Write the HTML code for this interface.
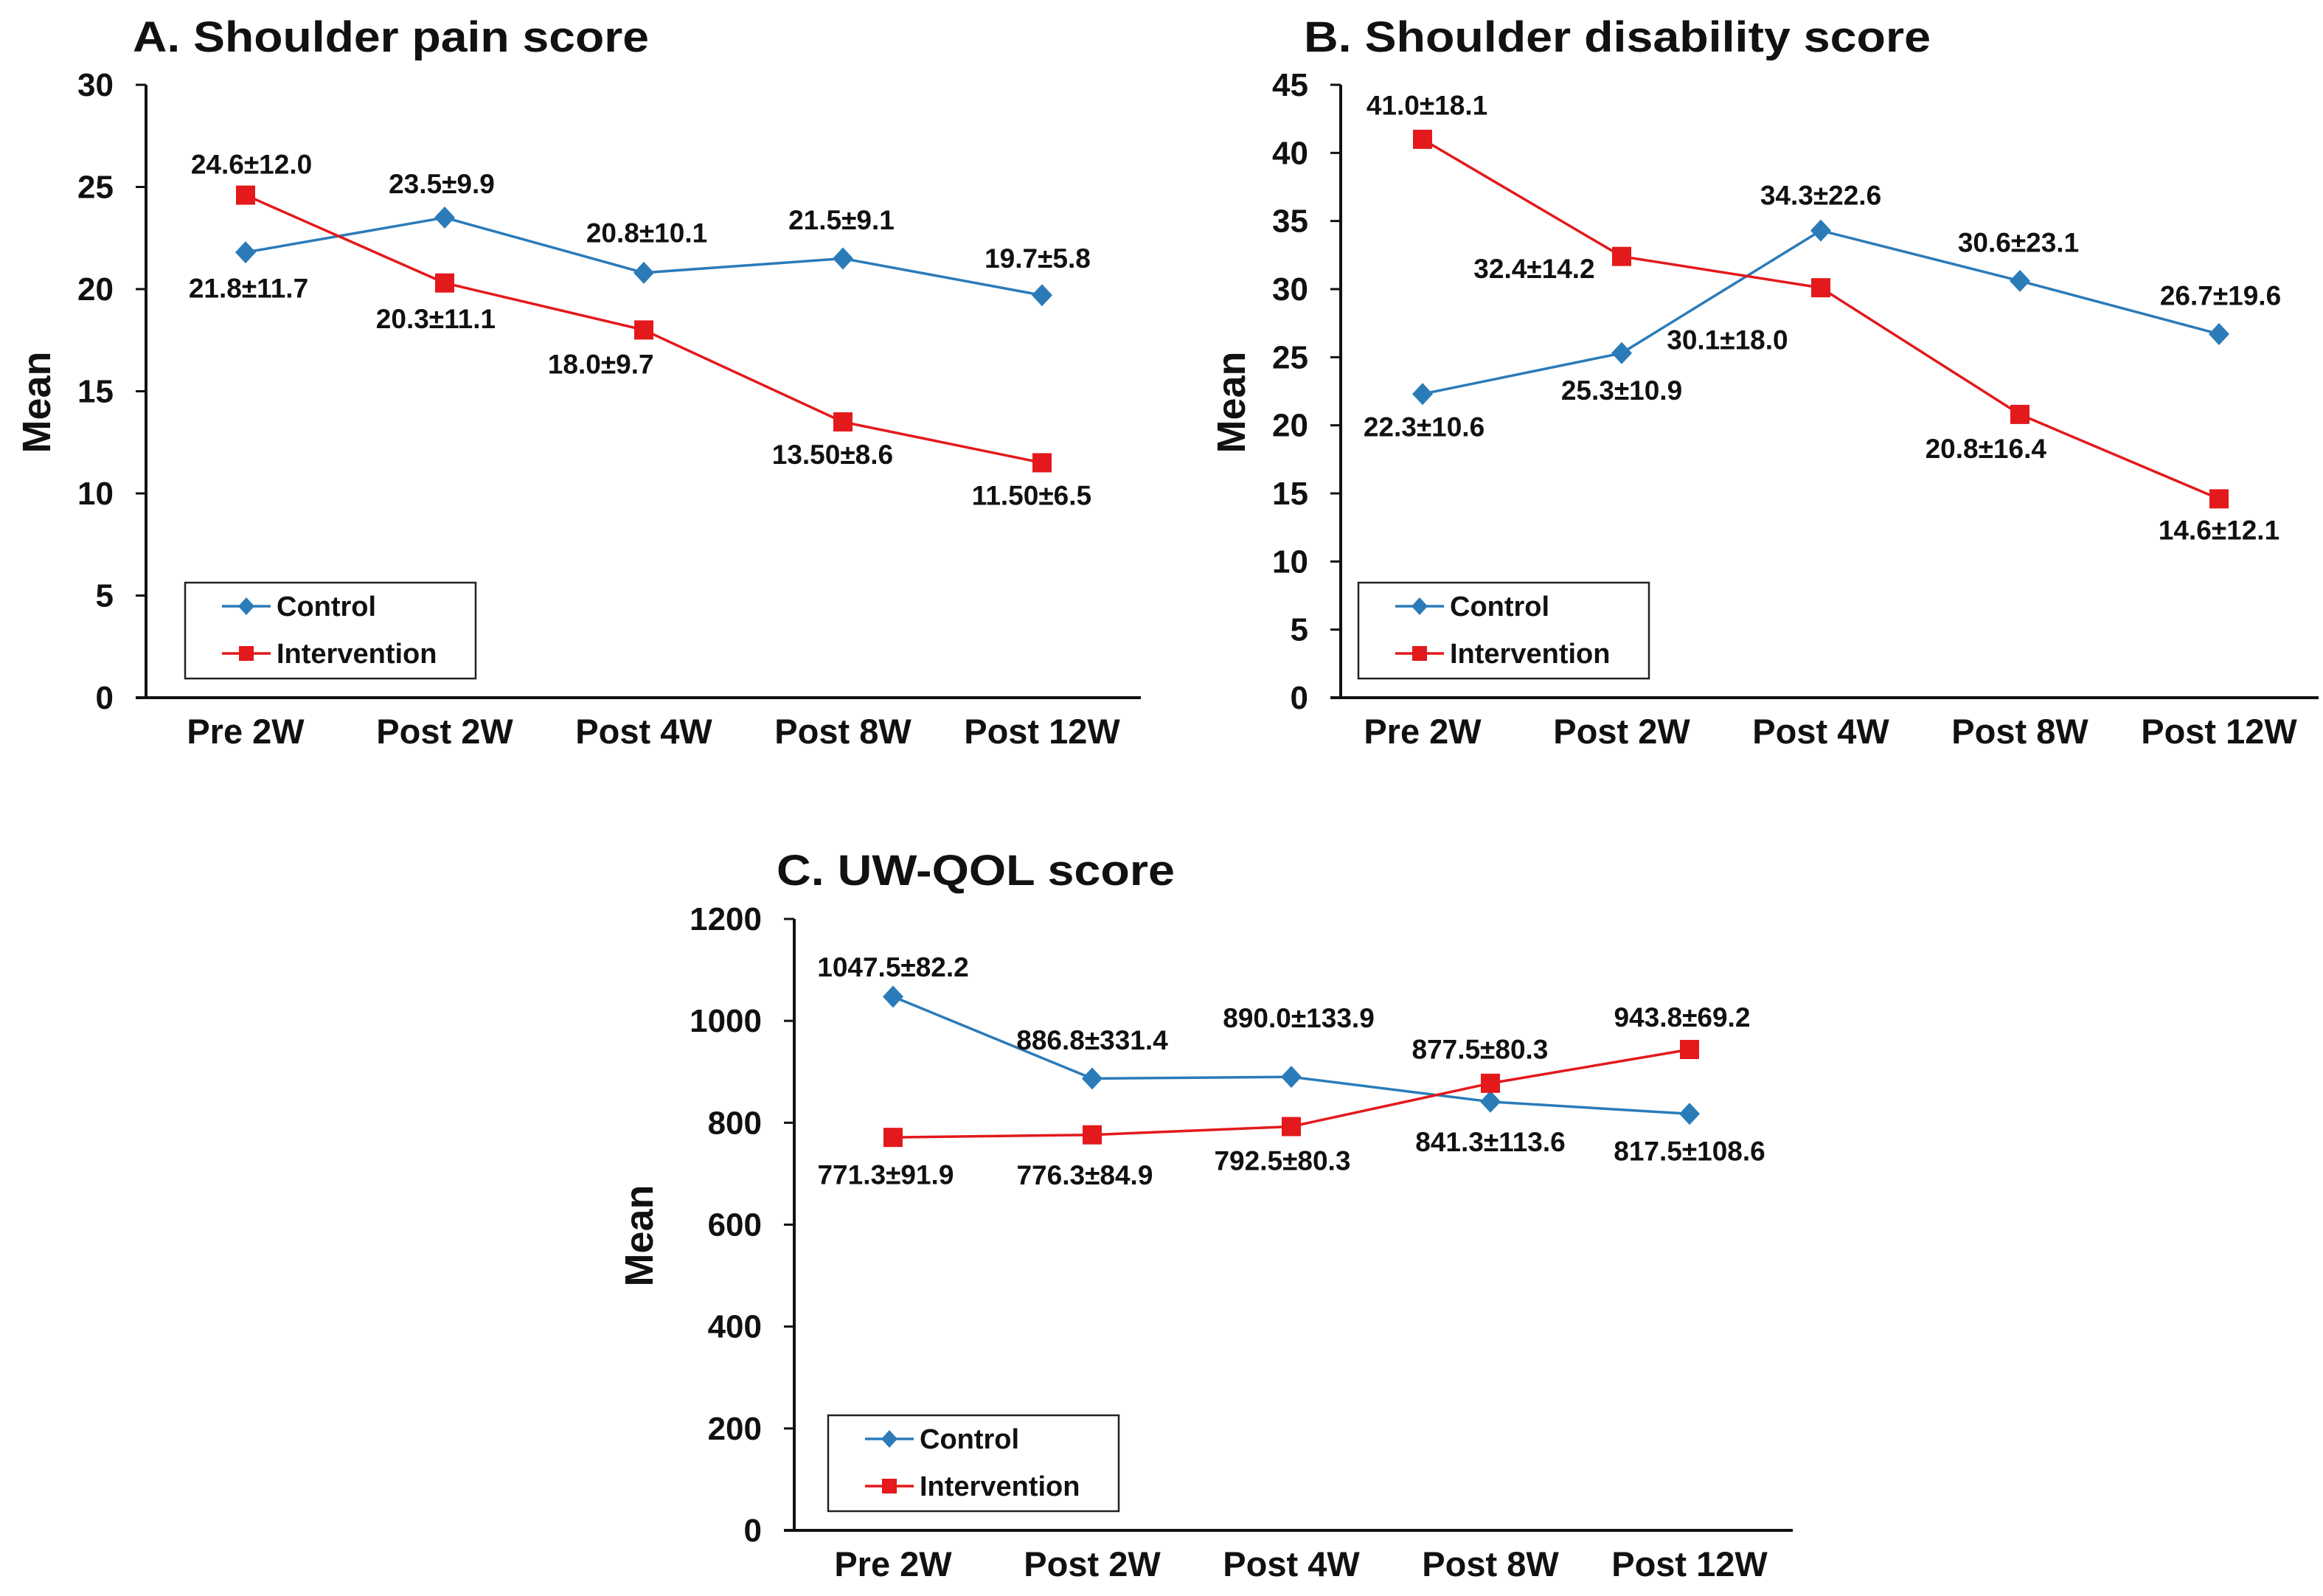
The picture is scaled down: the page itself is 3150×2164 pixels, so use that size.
<!DOCTYPE html>
<html><head><meta charset="utf-8"><style>
html,body{margin:0;padding:0;background:#fff}
svg{display:block}
text{font-family:"Liberation Sans",Arial,sans-serif;font-weight:bold;fill:#111}
</style></head><body>
<svg id="fig" width="3150" height="2164" viewBox="0 0 3150 2164" xmlns="http://www.w3.org/2000/svg"></svg>
<script>
const categories = ["Pre 2W","Post 2W","Post 4W","Post 8W","Post 12W"];
const painControl = [21.8,23.5,20.8,21.5,19.7];
const painIntervention = [24.6,20.3,18.0,13.5,11.5];
const painControlLabels = ["21.8±11.7","23.5±9.9","20.8±10.1","21.5±9.1","19.7±5.8"];
const painInterventionLabels = ["24.6±12.0","20.3±11.1","18.0±9.7","13.50±8.6","11.50±6.5"];
const painTicks = [0,5,10,15,20,25,30];
const disControl = [22.3,25.3,34.3,30.6,26.7];
const disIntervention = [41.0,32.4,30.1,20.8,14.6];
const disControlLabels = ["22.3±10.6","25.3±10.9","34.3±22.6","30.6±23.1","26.7±19.6"];
const disInterventionLabels = ["41.0±18.1","32.4±14.2","30.1±18.0","20.8±16.4","14.6±12.1"];
const disTicks = [0,5,10,15,20,25,30,35,40,45];
const qolControl = [1047.5,886.8,890.0,841.3,817.5];
const qolIntervention = [771.3,776.3,792.5,877.5,943.8];
const qolControlLabels = ["1047.5±82.2","886.8±331.4","890.0±133.9","841.3±113.6","817.5±108.6"];
const qolInterventionLabels = ["771.3±91.9","776.3±84.9","792.5±80.3","877.5±80.3","943.8±69.2"];
const qolTicks = [0,200,400,600,800,1000,1200];

const NS="http://www.w3.org/2000/svg";
const svg=document.getElementById('fig');
const BLUE="#2b7bb9", RED="#e3191b";
function mk(tag,attrs,parent){const e=document.createElementNS(NS,tag);for(const k in attrs)e.setAttribute(k,attrs[k]);(parent||svg).appendChild(e);return e;}

function drawChart(cfg){
  const g=mk('g',{});
  
  
  const yMax=cfg.ticks[cfg.ticks.length-1];
  const sy=v=>cfg.y0-(v/yMax)*(cfg.y0-cfg.yTop);
  const sx=i=>cfg.x0+i*270;
  const t=mk('text',{x:cfg.titleX,y:cfg.titleY,'font-size':58,textLength:cfg.titleW,lengthAdjust:'spacingAndGlyphs'},g);
  t.textContent=cfg.title;
  
  
  const yl=mk('text',{x:0,y:0,'font-size':54,'text-anchor':'middle',transform:`translate(${cfg.axisX-150+(cfg.ylOff||0)},${(cfg.y0+cfg.yTop)/2+15}) rotate(-90)`},g);
  yl.textContent="Mean";
  
  
  const ya=mk('line',{x1:cfg.axisX,y1:cfg.yTop,x2:cfg.axisX,y2:cfg.y0,stroke:'#111','stroke-width':4},g);
  
  
  const xa=mk('line',{x1:cfg.axisX-14,y1:cfg.y0,x2:cfg.xEnd,y2:cfg.y0,stroke:'#111','stroke-width':4},g);
  
  
  cfg.ticks.forEach(v=>{
    const y=sy(v);
    const tk=mk('line',{x1:cfg.axisX-14,y1:y,x2:cfg.axisX,y2:y,stroke:'#111','stroke-width':3},g);
    
    
    const tl=mk('text',{x:cfg.axisX-44,y:y+15,'font-size':44,'text-anchor':'end'},g);
    tl.textContent=v;
    
    
  });
  categories.forEach((c,i)=>{
    const cl=mk('text',{x:sx(i),y:cfg.y0+62,'font-size':47,'text-anchor':'middle'},g);
    cl.textContent=c;
    
    
  });
  const series=[{vals:cfg.ctrl,labels:cfg.ctrlL,off:cfg.ctrlOff,color:BLUE,name:'control'},
                {vals:cfg.intv,labels:cfg.intvL,off:cfg.intvOff,color:RED,name:'intervention'}];
  series.forEach(s=>{
    const pts=s.vals.map((v,i)=>sx(i)+','+sy(v)).join(' ');
    const pl=mk('polyline',{points:pts,fill:'none',stroke:s.color,'stroke-width':3.5},g);
    
    
    s.vals.forEach((v,i)=>{
      const x=sx(i),y=sy(v);
      let m;
      if(s.name==='control') m=mk('polygon',{points:`${x},${y-15} ${x+14},${y} ${x},${y+15} ${x-14},${y}`,fill:s.color},g);
      else m=mk('rect',{x:x-13,y:y-13,width:26,height:26,fill:s.color},g);
      
      
      const o=s.off[i];
      const lb=mk('text',{x:x+o[0]*2.009,y:y+o[1]*2.009+13,'font-size':37,'text-anchor':'middle'},g);
      lb.textContent=s.labels[i];
      
      
    });
  });
  const L=cfg.leg;
  const lg=mk('g',{},g);
  
  
  mk('rect',{x:L[0],y:L[1],width:394,height:130,fill:'#fff',stroke:'#222','stroke-width':2.5},lg);
  [[BLUE,'Control',32,'d'],[RED,'Intervention',96,'s']].forEach(e=>{
    const y=L[1]+e[2];
    const it=mk('g',{},lg);
    
    
    mk('line',{x1:L[0]+50,y1:y,x2:L[0]+116,y2:y,stroke:e[0],'stroke-width':3.5},it);
    const cx=L[0]+83;
    if(e[3]==='d') mk('polygon',{points:`${cx},${y-12} ${cx+11},${y} ${cx},${y+12} ${cx-11},${y}`,fill:e[0]},it);
    else mk('rect',{x:cx-10,y:y-10,width:20,height:20,fill:e[0]},it);
    const tx=mk('text',{x:L[0]+124,y:y+13,'font-size':38},it);
    tx.textContent=e[1];
  });
}

drawChart({id:'pain',title:'A. Shoulder pain score',titleX:180,titleY:70,titleW:700,
  axisX:198,yTop:115,y0:946,x0:333,xEnd:1547,ticks:painTicks,ylOff:20,
  ctrl:painControl,intv:painIntervention,ctrlL:painControlLabels,intvL:painInterventionLabels,
  ctrlOff:[[2,24],[-2,-23],[2,-27],[-1,-26],[-3,-25]],
  intvOff:[[4,-21],[-6,24],[-29,23],[-7,22],[-7,22]],
  leg:[251,790]});
drawChart({id:'disability',title:'B. Shoulder disability score',titleX:1768,titleY:70,titleW:850,
  axisX:1818,yTop:115,y0:946,x0:1929,xEnd:3144,ticks:disTicks,ylOff:20,
  ctrl:disControl,intv:disIntervention,ctrlL:disControlLabels,intvL:disInterventionLabels,
  ctrlOff:[[1,22],[0,25],[0,-24],[-1,-26],[1,-26]],
  intvOff:[[3,-23],[-59,8],[-63,35],[-23,23],[0,21]],
  leg:[1842,790]});
drawChart({id:'qol',title:'C. UW-QOL score',titleX:1053,titleY:1200,titleW:540,
  axisX:1077,yTop:1246,y0:2075,x0:1211,xEnd:2431,ticks:qolTicks,ylOff:-42,
  ctrl:qolControl,intv:qolIntervention,ctrlL:qolControlLabels,intvL:qolInterventionLabels,
  ctrlOff:[[0,-20],[0,-26],[5,-40],[0,27],[0,25]],
  intvOff:[[-5,25],[-5,27],[-6,23],[-7,-23],[-5,-22]],
  leg:[1123,1919]});
</script>
</body></html>
